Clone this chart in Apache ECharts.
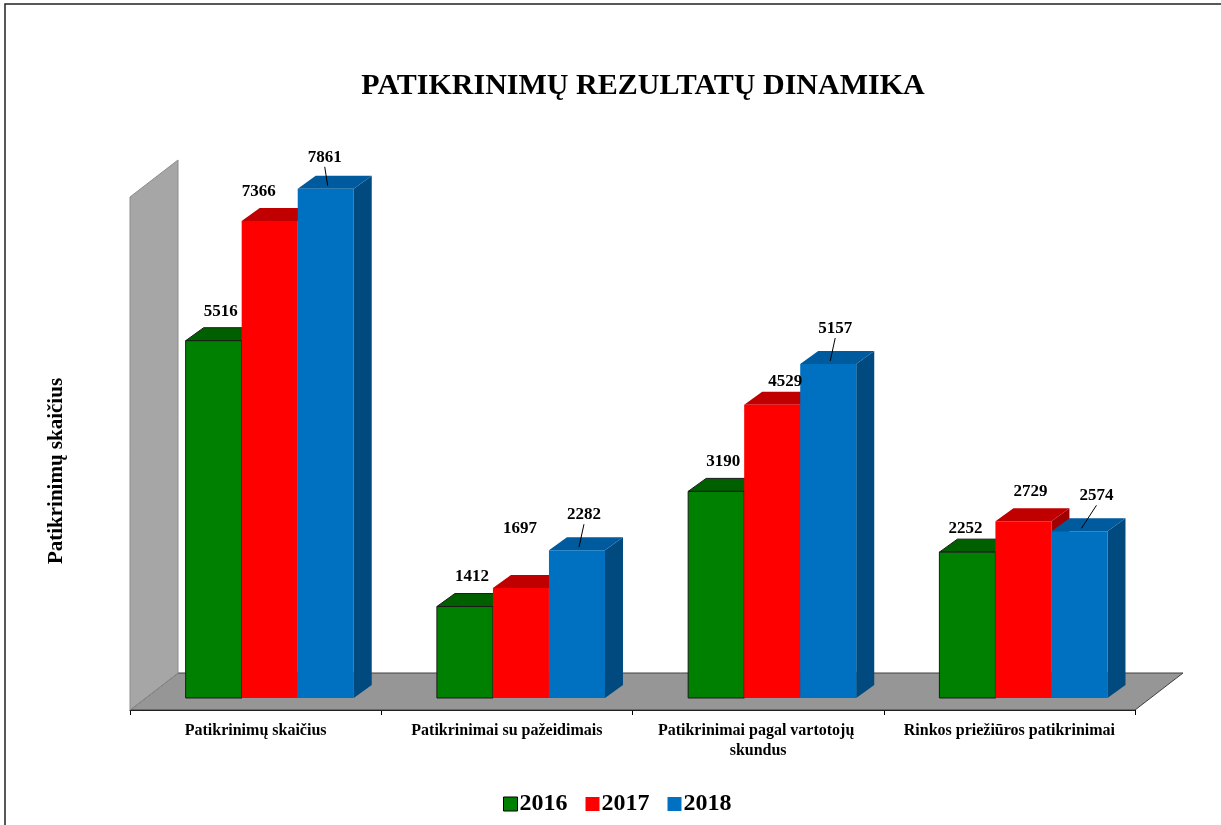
<!DOCTYPE html>
<html>
<head>
<meta charset="utf-8">
<title>Patikrinimų rezultatų dinamika</title>
<script src="https://cdn.jsdelivr.net/npm/echarts@6/dist/echarts.min.js"></script>
<style>
  html, body { margin: 0; padding: 0; background: #fff; }
  #chart { width: 1221px; height: 825px; }
</style>
</head>
<body>
<div id="chart"></div>
<script>
const categories = [
	"Patikrinimų skaičius",
	"Patikrinimai su pažeidimais",
	"Patikrinimai pagal vartotojų skundus",
	"Rinkos priežiūros patikrinimai",
];
const years = ["2016", "2017", "2018"];
const values2016 = [5516, 1412, 3190, 2252];
const values2017 = [7366, 1697, 4529, 2729];
const values2018 = [7861, 2282, 5157, 2574];

const SERIF = "'Liberation Serif', 'DejaVu Serif', serif";
// front, top, side
const palette = [
	["#008000", "#006000", "#004d00"],
	["#ff0000", "#c00000", "#a00000"],
	["#0070c0", "#005a9e", "#004a80"],
];
const depth = [18, -13]; // bar depth offset
const floorDepth = [48, -37];
// hand-moved labels, as in the original ("series-category": [dx, dy])
const labelNudge = {
	"0-3": [-9, 6],
	"1-0": [-18, 0],
	"1-1": [-8, -30],
	"1-2": [6, 6],
	"2-0": [-8, 4],
	"2-3": [10, 0],
};

function makeBarRenderer(s) {
	const [front, top, side] = palette[s];
	const outline = s === 0 ? "#1a1a1a" : null;
	return function (params, api) {
		const cat = api.value(0);
		const val = api.value(1);
		const band = api.size([1, 0])[0];
		const w = band * 0.223;
		const base = api.coord([cat, 0]);
		const peak = api.coord([cat, val]);
		const x0 = base[0] + band * 0.056 + (s - 1.5) * w;
		const x1 = x0 + w;
		const yb = base[1] - 12;
		const yt = peak[1] - 12;
		const dx = depth[0], dy = depth[1];
		const children = [
			{
				type: "polygon",
				shape: { points: [[x1, yt], [x1 + dx, yt + dy], [x1 + dx, yb + dy], [x1, yb]] },
				style: { fill: side, stroke: outline, lineWidth: 1 },
			},
			{
				type: "polygon",
				shape: { points: [[x0, yt], [x0 + dx, yt + dy], [x1 + dx, yt + dy], [x1, yt]] },
				style: { fill: top, stroke: outline, lineWidth: 1 },
			},
			{
				type: "rect",
				shape: { x: x0, y: yt, width: w, height: yb - yt },
				style: { fill: front, stroke: outline, lineWidth: 1 },
			},
		];
		const cx = (x0 + x1) / 2;
		const nudge = labelNudge[s + "-" + cat] || [0, 0];
		let lx = cx + 7 + nudge[0];
		let ly = yt + dy - 8 + nudge[1];
		if (s === 2) {
			ly -= 6;
			children.push({
				type: "line",
				z2: 99,
				shape: { x1: lx, y1: ly + 1, x2: cx + 2, y2: yt - 3 },
				style: { stroke: "#000", lineWidth: 1 },
			});
		}
		children.push({
			type: "text",
			z2: 100,
			style: {
				text: String(val),
				x: lx,
				y: ly,
				align: "center",
				verticalAlign: "bottom",
				font: "bold 17px " + SERIF,
				fill: "#000",
			},
		});
		return { type: "group", children: children };
	};
}

function renderFrame(params, api) {
	const cs = params.coordSys;
	const fx = floorDepth[0], fy = floorDepth[1];
	const left = cs.x, right = cs.x + cs.width;
	const top = cs.y, bottom = cs.y + cs.height;
	return {
		type: "group",
		children: [
			{
				type: "polygon",
				shape: { points: [[left, bottom], [right, bottom], [right + fx, bottom + fy], [left + fx, bottom + fy]] },
				style: { fill: "#969696", stroke: "#404040", lineWidth: 1 },
			},
			{
				type: "polygon",
				shape: { points: [[left, top], [left + fx, top + fy], [left + fx, bottom + fy], [left, bottom]] },
				style: { fill: "#a6a6a6", stroke: "#8c8c8c", lineWidth: 1 },
			},
		],
	};
}

const seriesValues = [values2016, values2017, values2018];
const series = [
	{
		type: "custom",
		name: "frame",
		renderItem: renderFrame,
		data: [[0, 0]],
		silent: true,
		z: 1,
	},
];
years.forEach(function (y, s) {
	series.push({
		type: "custom",
		name: y,
		renderItem: makeBarRenderer(s),
		itemStyle: { color: palette[s][0] },
		data: seriesValues[s].map(function (v, i) {
			return [i, v];
		}),
		encode: { x: 0, y: 1 },
		z: 2,
	});
});

const chart = echarts.init(document.getElementById("chart"));
chart.setOption({
	backgroundColor: "#fff",
	animation: false,
	title: {
		text: "PATIKRINIMŲ REZULTATŲ DINAMIKA",
		left: 638,
		textAlign: "center",
		top: 66,
		textStyle: { fontFamily: SERIF, fontWeight: "bold", fontSize: 30, color: "#000" },
	},
	legend: {
		data: [
			{ name: "2016", itemStyle: { borderColor: "#000", borderWidth: 1 } },
			{ name: "2017" },
			{ name: "2018" },
		],
		left: 498,
		top: 787,
		icon: "rect",
		itemWidth: 14,
		itemHeight: 14,
		itemGap: 18,
		textStyle: { fontFamily: SERIF, fontWeight: "bold", fontSize: 24, color: "#000", padding: [0, 0, 0, -3] },
	},
	graphic: [
		{
			type: "rect",
			shape: { x: 5, y: 4, width: 1240, height: 850 },
			style: { fill: null, stroke: "#222", lineWidth: 1.5 },
			silent: true,
		},
		{
			type: "text",
			x: 57,
			y: 471,
			rotation: Math.PI / 2,
			style: {
				text: "Patikrinimų skaičius",
				align: "center",
				verticalAlign: "middle",
				font: "bold 21px " + SERIF,
				fill: "#000",
			},
			silent: true,
		},
	],
	grid: { left: 130, right: 86, top: 197, bottom: 115 },
	xAxis: {
		type: "category",
		data: categories,
		axisLine: { show: true, lineStyle: { color: "#000", width: 1 } },
		axisTick: { show: true, length: 5, lineStyle: { color: "#000" } },
		axisLabel: {
			interval: 0,
			margin: 11,
			width: 236,
			overflow: "break",
			fontFamily: SERIF,
			fontWeight: "bold",
			fontSize: 16,
			color: "#000",
			lineHeight: 20,
		},
	},
	yAxis: {
		type: "value",
		min: 0,
		max: 7920,
		axisLine: { show: false },
		axisTick: { show: false },
		axisLabel: { show: false },
		splitLine: { show: false },
	},
	series: series,
});
</script>
</body>
</html>
